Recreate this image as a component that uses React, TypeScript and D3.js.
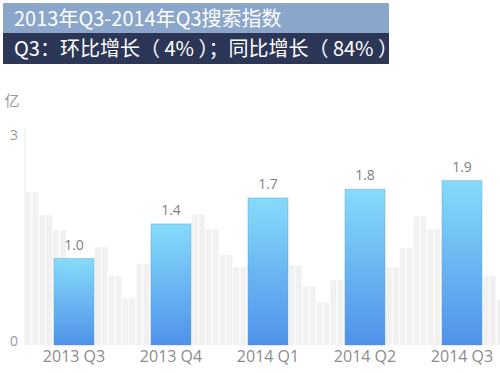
import { useEffect, useRef } from "react";
import * as d3 from "d3";

// quarterly search index (unit: 亿)
const quarters = ["2013 Q3", "2013 Q4", "2014 Q1", "2014 Q2", "2014 Q3"];
const searchIndex = [1.0, 1.4, 1.7, 1.8, 1.9];
const valueLabels = ["1.0", "1.4", "1.7", "1.8", "1.9"];

// faint grey background bars (pairs) left to right
const bgBars = [
  1.77, 1.5, 1.33, 0.95, 0.9, 1.13, 0.8, 0.54, 0.94, 1.2, 1.25, 1.3,
  1.51, 1.34, 1.04, 0.9, 0.95, 1.0, 0.95, 0.92, 0.68, 0.49, 0.75, 0.9,
  1.0, 0.95, 0.9, 1.12, 1.49, 1.34, 1.2, 1.0, 0.9, 0.8, 0.52,
];

const yTicks = [0, 3];
const titleText = "2013年Q3-2014年Q3搜索指数";
const subtitleText = "Q3：环比增长（ 4% ）；同比增长（ 84% ）";
const unitText = "亿";

const cjkFont = "'Noto Sans CJK SC', 'Noto Sans', sans-serif";
const latinFont = "'Open Sans', 'Noto Sans', sans-serif";

export default function App() {
  const ref = useRef<SVGSVGElement>(null);

  useEffect(() => {
    const svg = d3.select(ref.current);
    svg.selectAll("*").remove();

    const baseline = 345;
    const left = 25;

    // header banners
    svg.append("rect").attr("x", 3).attr("y", 3).attr("width", 386).attr("height", 30).attr("fill", "#8aa6cb");
    svg.append("rect").attr("x", 3).attr("y", 33).attr("width", 386).attr("height", 31).attr("fill", "#2c3757");

    svg.append("text")
      .attr("x", 14).attr("y", 26)
      .style("font-family", cjkFont).style("font-size", "20px")
      .attr("fill", "#ffffff")
      .text(titleText);

    svg.append("text")
      .attr("x", 14).attr("y", 56)
      .style("font-family", cjkFont).style("font-size", "20px")
      .style("white-space", "pre")
      .attr("fill", "#ffffff")
      .text(subtitleText);

    // bars use their own scale, axis labels sit at the ends of the axis line
    const y = d3.scaleLinear().domain([0, 3]).range([baseline, baseline - 3 * 86.5]);
    const yAxis = d3.scaleLinear().domain([0, 3]).range([341, 135]);

    const x = d3.scaleBand<string>()
      .domain(quarters)
      .range([25.5, 510.5])
      .paddingInner(0.588)
      .paddingOuter(0.294);

    const bgX = d3.scaleLinear().domain([0, bgBars.length]).range([left, left + 13.86 * bgBars.length]);
    const half = 13.86 / 2;

    // background bars
    const bg = svg.append("g");
    bgBars.forEach((v, i) => {
      for (let k = 0; k < 2; k++) {
        const x0 = bgX(i) + k * half;
        bg.append("rect")
          .attr("x", x0 + 0.5)
          .attr("y", y(v))
          .attr("width", half - 1)
          .attr("height", baseline - y(v))
          .attr("fill", "#f1f1f1");
      }
    });

    // axis line
    svg.append("line")
      .attr("x1", left).attr("x2", left)
      .attr("y1", 128).attr("y2", baseline)
      .attr("stroke", "#ececec");

    svg.append("text")
      .attr("x", 12).attr("y", 106)
      .attr("text-anchor", "middle")
      .style("font-family", cjkFont).style("font-size", "15px")
      .attr("fill", "#9a9a9a")
      .text(unitText);

    svg.selectAll(".ytick")
      .data(yTicks)
      .enter().append("text")
      .attr("x", 14)
      .attr("y", d => yAxis(d) + 5)
      .attr("text-anchor", "middle")
      .style("font-family", latinFont).style("font-size", "14px")
      .attr("fill", "#9a9a9a")
      .text(d => d);

    // gradient for the main bars
    const grad = svg.append("defs").append("linearGradient")
      .attr("id", "barGrad")
      .attr("x1", 0).attr("y1", 0).attr("x2", 0).attr("y2", 1);
    grad.append("stop").attr("offset", "0%").attr("stop-color", "#86dbfb");
    grad.append("stop").attr("offset", "100%").attr("stop-color", "#4f92e9");

    svg.selectAll(".bar")
      .data(searchIndex)
      .enter().append("rect")
      .attr("x", (d, i) => x(quarters[i])!)
      .attr("y", d => y(d))
      .attr("width", x.bandwidth())
      .attr("height", d => baseline - y(d))
      .attr("fill", "url(#barGrad)")
      .attr("stroke", "#5c94d6")
      .attr("stroke-opacity", 0.4);

    svg.selectAll(".val")
      .data(searchIndex)
      .enter().append("text")
      .attr("x", (d, i) => x(quarters[i])! + x.bandwidth() / 2)
      .attr("y", d => y(d) - 9)
      .attr("text-anchor", "middle")
      .style("font-family", latinFont).style("font-size", "14px")
      .attr("fill", "#808080")
      .text((d, i) => valueLabels[i]);

    svg.selectAll(".xlab")
      .data(quarters)
      .enter().append("text")
      .attr("x", d => x(d)! + x.bandwidth() / 2)
      .attr("y", 362)
      .attr("text-anchor", "middle")
      .style("font-family", latinFont).style("font-size", "16px")
      .attr("fill", "#8c8c8c")
      .text(d => d);
  }, []);

  return (
    <div style={{ position: "absolute", left: 0, top: 0, width: 500, height: 373, background: "#fff" }}>
      <svg ref={ref} width={500} height={373}></svg>
    </div>
  );
}
